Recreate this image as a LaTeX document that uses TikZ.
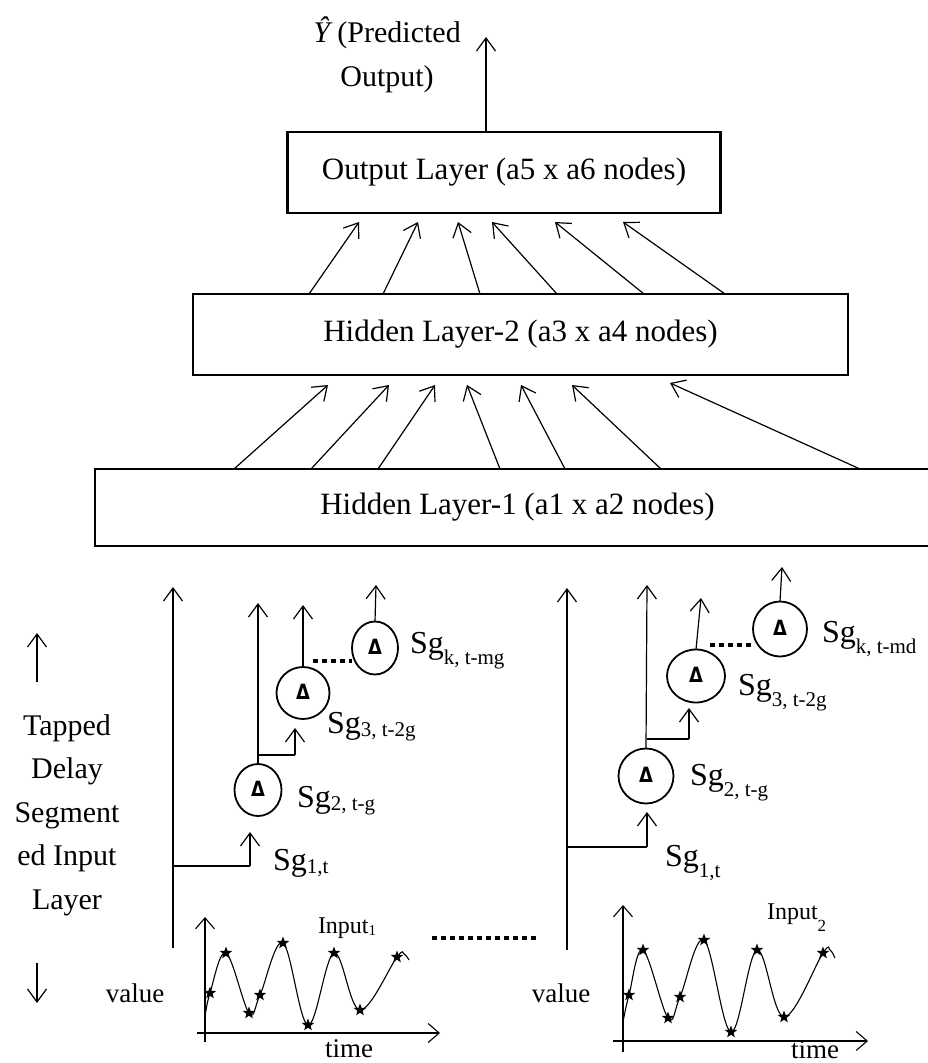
\documentclass[tikz,border=0pt]{standalone}
\usepackage{fontspec}
\setmainfont{Liberation Serif}
\newfontfamily\deltafont{DejaVu Sans}
\usetikzlibrary{arrows.meta,shapes.geometric}

% subscript used in the segment labels: #1 = drop below the baseline
\newcommand{\sgsub}[2][3pt]{\raisebox{-#1}{\fontsize{21}{21}\selectfont #2}}
\newcommand{\insub}[3][2pt]{\raisebox{-#1}{\fontsize{#2}{#2}\selectfont #3}}

\begin{document}
\begin{tikzpicture}[x=1pt,y=-1pt,
  every node/.style={inner sep=0pt,outer sep=0pt},
  arr/.style={line width=1.2pt,-{Straight Barb[length=13pt,width=19pt,line width=1.2pt]}},
  ln/.style={line width=1.2pt},
  layerbox/.style={draw,line width=1.4pt,rectangle,font=\fontsize{31}{31}\selectfont},
  delaycell/.style={draw,ellipse,line width=1.8pt},
  deltamark/.style={font=\deltafont\bfseries\fontsize{21}{21}\selectfont,xscale=0.85},
  sglabel/.style={anchor=base west,font=\fontsize{32}{32}\selectfont},
  dotline/.style={line width=4pt,dash pattern=on 5pt off 4pt},
  axisarr/.style={line width=1.1pt,-{Straight Barb[length=11pt,width=19pt,line width=1.1pt]}},
  signal/.style={line width=1.1pt},
  sample/.style={star,star points=5,star point ratio=2.4,fill=black,minimum size=13pt},
  smalltext/.style={font=\fontsize{27}{27}\selectfont},
]
\useasboundingbox (0,0) rectangle (927,1063);

% ---------------- layers ----------------
\node[layerbox,line width=2.4pt,minimum width=433pt,minimum height=81pt] (out) at (504,172.5) {Output Layer (a5 x a6 nodes)};
\node[layerbox,minimum width=655pt,minimum height=81pt] (h2) at (520.5,334.5) {Hidden Layer-2 (a3 x a4 nodes)};
\node[layerbox,minimum width=845pt,minimum height=77pt] (h1) at (517.5,507.5) {Hidden Layer-1 (a1 x a2 nodes)};

% predicted output
\node[align=center,font=\fontsize{30}{44}\selectfont] (yhat) at (387,55) {{\itshape Ŷ} (Predicted\\Output)};
\coordinate (ytip) at (486,37);
\draw[arr] (486,0 |- out.north) -- (ytip);

% hidden-2 to output
\foreach \a/\b in {309/359,383/418,480/458,557/492,644/555,725/623}
  \draw[arr] (\a,0 |- h2.north) -- (\b,222);

% hidden-1 to hidden-2
\foreach \a/\b/\c in {234/328/385,311/389/385,378/435/385,500/467/385,565/521/385,661/572/385,860/670/383}
  \draw[arr] (\a,0 |- h1.north) -- (\b,\c);

% ---------------- tapped delay line, input 1 ----------------
\node[delaycell,minimum width=47pt,minimum height=52pt] (c12) at (258,790) {};
\node[delaycell,minimum width=53pt,minimum height=52pt] (c13) at (303,693) {};
\node[delaycell,minimum width=46pt,minimum height=53pt] (c1k) at (375,648) {};
\foreach \c in {c12,c13,c1k} \node[deltamark] at ([yshift=1pt]\c) {Δ};

\coordinate (a1base) at (173,948);
\draw[arr] (a1base) -- (173,587);
\draw[ln] (173,866) -- (250,866);
\draw[arr] (250,866) -- (250,832);
\draw[arr] (c12.north) -- (258,603);
\draw[ln] (258,755) -- (295,755);
\draw[arr] (295,755) -- (295,728);
\draw[arr] (c13.north) -- (303,605);
\draw[dotline] (313,661) -- (352,661);
\draw[arr] (c1k.north) -- (376,585);

\node[sglabel] (l1k) at (410,653) {Sg\sgsub[11pt]{k, t-mg}};
\node[sglabel] (l13) at (327,733) {Sg\sgsub{3, t-2g}};
\node[sglabel] (l12) at (297,807) {Sg\sgsub{2, t-g}};
\node[sglabel] (l11) at (273,870) {Sg\sgsub{1,t}};

% ---------------- tapped delay line, input 2 ----------------
\node[delaycell,minimum width=55pt,minimum height=55pt] (c22) at (646,776) {};
\node[delaycell,minimum width=58pt,minimum height=53pt] (c23) at (696,676) {};
\node[delaycell,minimum width=54pt,minimum height=55pt] (c2k) at (780,629) {};
\foreach \c in {c22,c23,c2k} \node[deltamark] at ([yshift=1pt]\c) {Δ};

\coordinate (a2base) at (567,950);
\draw[arr] (a2base) -- (567,588);
\draw[ln] (567,847) -- (647,847);
\draw[arr] (647,847) -- (647,812);
\draw[arr] (c22.north) -- (647,585);
\draw[ln] (647,739) -- (689,739);
\draw[arr] (689,739) -- (689,708);
\draw[arr] (c23.north) -- (701,598);
\draw[dotline] (710,645) -- (753,645);
\draw[arr] (c2k.north) -- (782,567);

\node[sglabel] (l2k) at (822,642) {Sg\sgsub[11pt]{k, t-md}};
\node[sglabel] (l23) at (738,695) {Sg\sgsub[11pt]{3, t-2g}};
\node[sglabel] (l22) at (690,785) {Sg\sgsub[11pt]{2, t-g}};
\node[sglabel] (l21) at (665,866) {Sg\sgsub[11pt]{1,t}};

% ---------------- side caption ----------------
\node[align=center,font=\fontsize{30}{43.5}\selectfont] (cap) at (67,815) {Tapped\\Delay\\Segment\\ed Input\\Layer};
\draw[arr] (37,682) -- (37,633);
\draw[arr] (37,963) -- (37,1003);

% ---------------- input signal 1 ----------------
\draw[axisarr] (205,1042) -- (205,917);
\draw[axisarr] (197,1033) -- (440,1033);
\draw[signal] plot[smooth,tension=0.6] coordinates {(205,1017) (210,993) (226,953) (249,1013) (260,995) (283,943) (308,1025) (334,953) (360,1010) (397,957) (404,954) (409,960)};
\foreach \p in {(210,993),(226,953),(249,1013),(260,995),(283,943),(308,1025),(334,953),(360,1010),(397,957)}
  \node[sample] at \p {};
\node[smalltext,anchor=base] (v1) at (135,1002) {value};
\node[smalltext,anchor=base] (t1) at (349,1057) {time};
\node[anchor=base west,font=\fontsize{24}{24}\selectfont] (i1) at (318,933) {Input\insub{15}{1}};

% ---------------- input signal 2 ----------------
\draw[axisarr] (623,1052) -- (623,905);
\draw[axisarr] (613,1041) -- (868,1041);
\draw[signal] plot[smooth,tension=0.6] coordinates {(623,1022) (629,995) (643,950) (668,1018) (680,997) (704,940) (731,1032) (757,950) (784,1017) (823,953) (830,950) (835,958)};
\foreach \p in {(629,995),(643,950),(668,1018),(680,997),(704,940),(731,1032),(757,950),(784,1017),(823,953)}
  \node[sample] at \p {};
\node[smalltext,anchor=base] (v2) at (561,1002) {value};
\node[smalltext,anchor=base] (t2) at (815,1058) {time};
\node[anchor=base west,font=\fontsize{24}{24}\selectfont] (i2) at (767,919) {Input\insub[12pt]{17}{2}};

% dots between the two inputs
\draw[dotline] (432,938) -- (538,938);
\end{tikzpicture}
\end{document}
